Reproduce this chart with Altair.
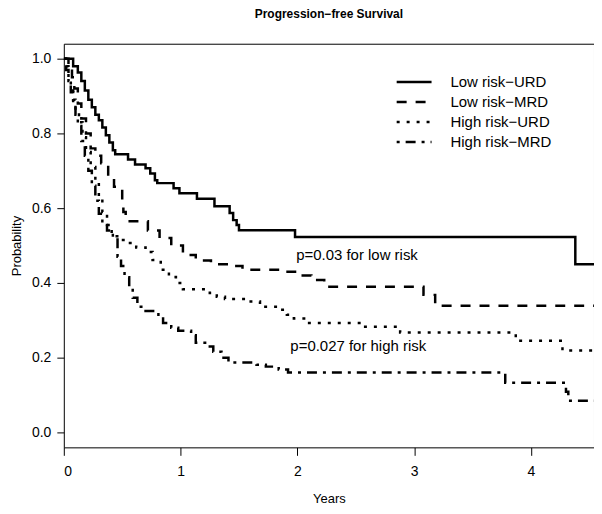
import altair as alt
import pandas as pd

series = ["Low risk−URD", "Low risk−MRD", "High risk−URD", "High risk−MRD"]
x_end = 4.54

lr_urd_x = [0, 0.08, 0.12, 0.15, 0.18, 0.21, 0.24, 0.27, 0.30, 0.33, 0.36, 0.39, 0.42, 0.44,
            0.55, 0.61, 0.70, 0.74, 0.78, 0.80, 0.94, 0.99, 1.14, 1.29, 1.42, 1.45, 1.48, 1.50,
            1.98, 4.38]
lr_urd_y = [1.0, 0.98, 0.963, 0.94, 0.915, 0.89, 0.87, 0.85, 0.835, 0.816, 0.795, 0.776, 0.755, 0.744,
            0.73, 0.717, 0.707, 0.693, 0.675, 0.667, 0.653, 0.64, 0.625, 0.605, 0.587, 0.568, 0.555, 0.541,
            0.523, 0.45]

lr_mrd_x = [0, 0.04, 0.07, 0.09, 0.12, 0.15, 0.19, 0.23, 0.27, 0.32, 0.38, 0.43, 0.50, 0.51, 0.53,
            0.72, 0.82, 0.92, 1.02, 1.13, 1.26, 1.45, 1.53, 1.88, 1.98, 2.12, 2.23, 3.08, 3.18]
lr_mrd_y = [1.0, 0.98, 0.95, 0.92, 0.88, 0.84, 0.80, 0.76, 0.74, 0.72, 0.69, 0.657, 0.62, 0.59, 0.565,
            0.54, 0.52, 0.50, 0.475, 0.46, 0.45, 0.445, 0.435, 0.43, 0.42, 0.408, 0.39, 0.368, 0.339]

hr_urd_x = [0, 0.02, 0.04, 0.06, 0.08, 0.10, 0.13, 0.16, 0.19, 0.23, 0.27, 0.30, 0.33, 0.37, 0.41,
            0.47, 0.53, 0.62, 0.70, 0.76, 0.83, 0.90, 0.96, 1.02, 1.25, 1.31, 1.38, 1.58, 1.68, 1.85,
            1.91, 1.97, 2.07, 2.55, 2.88, 3.87, 4.27]
hr_urd_y = [1.0, 0.98, 0.95, 0.92, 0.89, 0.86, 0.83, 0.79, 0.75, 0.71, 0.67, 0.63, 0.59, 0.555, 0.525,
            0.515, 0.507, 0.495, 0.483, 0.461, 0.435, 0.416, 0.40, 0.383, 0.373, 0.363, 0.357, 0.35, 0.336, 0.328,
            0.315, 0.305, 0.293, 0.283, 0.267, 0.245, 0.219]

hr_mrd_x = [0, 0.02, 0.04, 0.06, 0.08, 0.10, 0.12, 0.15, 0.18, 0.21, 0.24, 0.27, 0.30, 0.33, 0.37,
            0.42, 0.46, 0.49, 0.52, 0.56, 0.59, 0.63, 0.70, 0.81, 0.85, 0.92, 0.98, 1.09, 1.13, 1.21,
            1.28, 1.35, 1.41, 1.65, 1.73, 1.84, 1.92, 3.78, 4.30, 4.32]
hr_mrd_y = [1.0, 0.97, 0.94, 0.91, 0.88, 0.85, 0.82, 0.78, 0.74, 0.70, 0.66, 0.62, 0.585, 0.56, 0.54,
            0.52, 0.47, 0.445, 0.415, 0.385, 0.36, 0.336, 0.325, 0.31, 0.293, 0.28, 0.272, 0.26, 0.24, 0.23,
            0.216, 0.20, 0.187, 0.181, 0.176, 0.168, 0.16, 0.133, 0.109, 0.085]

ann_text = ["p=0.03 for low risk", "p=0.027 for high risk"]
ann_x = [1.99, 1.94]
ann_y = [0.475, 0.23]

x_ticks = [0, 1, 2, 3, 4]
y_ticks = [0.0, 0.2, 0.4, 0.6, 0.8, 1.0]

rows = []
for name, xs, ys in zip(series, [lr_urd_x, lr_mrd_x, hr_urd_x, hr_mrd_x],
                        [lr_urd_y, lr_mrd_y, hr_urd_y, hr_mrd_y]):
    for xv, yv in zip(xs + [x_end], ys + [ys[-1]]):
        rows.append({"series": name, "x": xv, "y": yv})
df = pd.DataFrame(rows)
ann = pd.DataFrame({"text": ann_text, "x": ann_x, "y": ann_y})

FONT = "Liberation Sans"
xscale = alt.Scale(domain=[0, x_end], nice=False, zero=False)
yscale = alt.Scale(domain=[-0.04, 1.04], nice=False, zero=False)

lines = alt.Chart(df).mark_line(
    interpolate="step-after", strokeWidth=2.5, color="black", clip=True
).encode(
    x=alt.X("x:Q", scale=xscale,
            axis=alt.Axis(values=x_ticks, title="Years", format="d", grid=False,
                          tickSize=8, labelPadding=9, titlePadding=14, titleFontSize=13)),
    y=alt.Y("y:Q", scale=yscale,
            axis=alt.Axis(values=y_ticks, title="Probability", format=".1f", grid=False,
                          tickSize=7, labelPadding=6, titlePadding=8, titleFontSize=13)),
    strokeDash=alt.StrokeDash(
        "series:N",
        scale=alt.Scale(domain=series, range=[[1, 0], [10, 9], [3, 7], [3, 6, 10, 6]]),
        legend=alt.Legend(title=None, orient="none", legendX=344, legendY=31,
                          symbolType="M-3.5,0H3.5", symbolSize=100, symbolStrokeWidth=2.5,
                          symbolStrokeColor="black", symbolFillColor="transparent",
                          labelFontSize=15, labelFont=FONT,
                          labelColor="black", labelOffset=29, rowPadding=4),
    ),
)

texts = alt.Chart(ann).mark_text(
    align="left", baseline="middle", fontSize=15, font=FONT, color="black"
).encode(
    x=alt.X("x:Q", scale=xscale),
    y=alt.Y("y:Q", scale=yscale),
    text="text:N",
)

chart = alt.layer(lines, texts).properties(
    width=532, height=405,
    padding={"left": 56, "top": 35, "right": 0, "bottom": 58},
    autosize=alt.AutoSizeParams(type="none"),
    background="white",
    title=alt.TitleParams("Progression−free Survival", font=FONT, fontSize=12,
                          fontWeight="bold", anchor="middle", offset=23, color="black"),
).configure_view(
    stroke="black", strokeWidth=1
).configure_axis(
    domain=False, labelFont=FONT, titleFont=FONT, labelFontSize=14, titleFontSize=14,
    titleFontWeight="normal", labelColor="black", titleColor="black", tickColor="black",
    labelAngle=0
)

chart.save("out.html", embed_options={"renderer": "svg", "actions": False})
